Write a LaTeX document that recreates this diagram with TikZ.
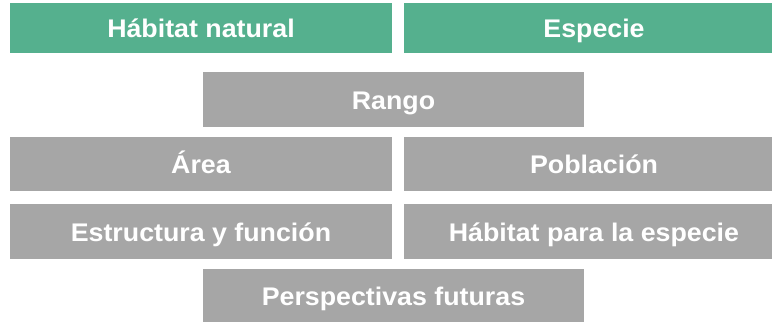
\documentclass[tikz,border=0pt]{standalone}
\usepackage{fontspec}
\setmainfont{Liberation Sans}
\definecolor{boxgreen}{HTML}{55B08E}
\definecolor{boxgray}{HTML}{A6A6A6}
\begin{document}
\begin{tikzpicture}[x=1pt,y=-1pt,
  boxbase/.style={inner sep=0pt, anchor=base, text=white, xscale=1.05, transform shape, font=\fontsize{25.5}{30}\selectfont\bfseries}]
\useasboundingbox (0,0) rectangle (772,322);
\fill[boxgreen] (10,3) rectangle (392,53);
\node[boxbase] (hab) at (201,37.5) {Hábitat natural};
\fill[boxgreen] (404,3) rectangle (772,53);
\node[boxbase] (esp) at (594,37.5) {Especie};
\fill[boxgray] (203,72) rectangle (584,127);
\node[boxbase] (ran) at (393.5,109) {Rango};
\fill[boxgray] (10,137) rectangle (392,191);
\node[boxbase] (are) at (201,173.5) {Área};
\fill[boxgray] (404,137) rectangle (772,191);
\node[boxbase] (pob) at (594,173.5) {Población};
\fill[boxgray] (10,204) rectangle (392,259);
\node[boxbase] (est) at (201,241) {Estructura y función};
\fill[boxgray] (404,204) rectangle (772,259);
\node[boxbase] (hpe) at (594,241) {Hábitat para la especie};
\fill[boxgray] (203,269) rectangle (584,322);
\node[boxbase] (per) at (393.5,305) {Perspectivas futuras};
\end{tikzpicture}
\end{document}
